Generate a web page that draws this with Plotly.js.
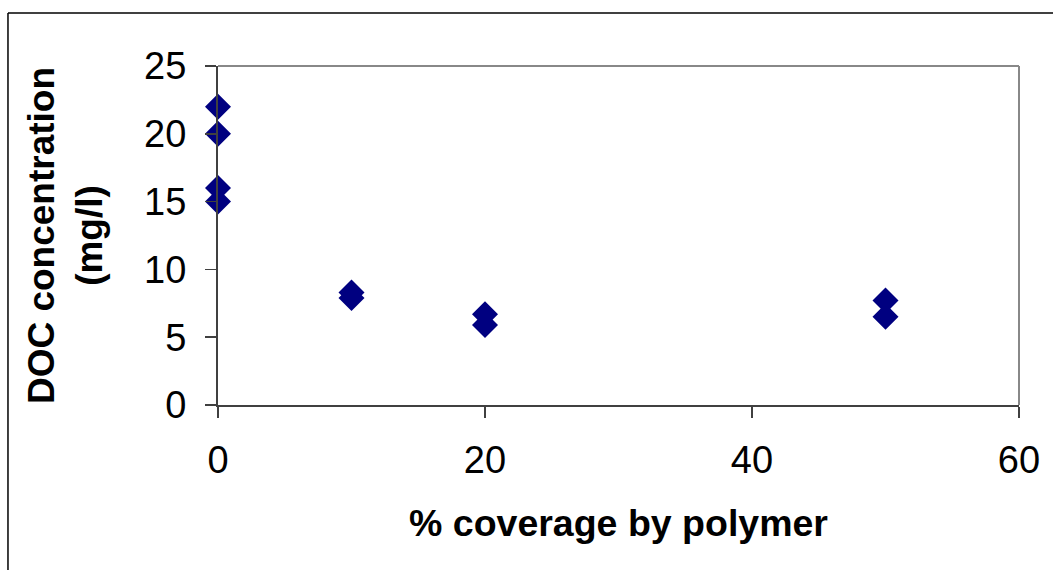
<!DOCTYPE html>
<html>
<head>
<meta charset="utf-8">
<script src="https://cdn.plot.ly/plotly-3.0.1.min.js"></script>
<style>
html,body{margin:0;padding:0;background:#fff;}
#chart{width:1053px;height:570px;}
</style>
</head>
<body>
<div id="chart"></div>
<script>
const coverage = [0, 0, 0, 0, 10, 10, 20, 20, 50, 50];
const docConc = [22, 20, 16, 15, 8.3, 7.9, 6.7, 5.9, 7.7, 6.5];
const xTicks = [0, 20, 40, 60];
const yTicks = [0, 5, 10, 15, 20, 25];
const xTitle = '% coverage by polymer';
const yTitle = 'DOC concentration<br>(mg/l)';

const trace = {
  x: coverage,
  y: docConc,
  type: 'scatter',
  mode: 'markers',
  cliponaxis: false,
  marker: {symbol: 'diamond', size: 20, color: '#000080', line: {width: 0}},
  hoverinfo: 'x+y'
};

const font = {family: '"Liberation Sans", Arial, sans-serif', color: '#000'};

const layout = {
  width: 1053,
  height: 570,
  margin: {l: 218, r: 34, t: 66, b: 165},
  paper_bgcolor: '#fff',
  plot_bgcolor: '#fff',
  showlegend: false,
  font: font,
  xaxis: {
    range: [0, 60],
    tickvals: xTicks,
    ticktext: xTicks.map(String),
    ticks: 'outside',
    ticklen: 11,
    tickwidth: 1.5,
    tickcolor: '#404040',
    showline: true,
    linecolor: '#404040',
    linewidth: 2,
    showgrid: false,
    zeroline: false,
    tickfont: {size: 38, family: font.family, color: '#000'},
    ticklabelstandoff: 9,
    title: {text: xTitle, font: {size: 37.5, family: font.family, color: '#000', weight: 'bold'}, standoff: 30}
  },
  yaxis: {
    range: [0, 25],
    tickvals: yTicks,
    ticktext: yTicks.map(String),
    ticks: 'outside',
    ticklen: 11,
    tickwidth: 1.5,
    tickcolor: '#404040',
    showline: true,
    linecolor: '#404040',
    linewidth: 2,
    showgrid: false,
    zeroline: false,
    tickfont: {size: 38, family: font.family, color: '#000'},
    ticklabelstandoff: 11,
    title: {text: yTitle, font: {size: 37, family: font.family, color: '#000', weight: 'bold'}, standoff: 30}
  },
  shapes: [
    {type: 'line', xref: 'paper', yref: 'paper', x0: 0, x1: 1, y0: 1, y1: 1, line: {color: '#888', width: 2}},
    {type: 'line', xref: 'paper', yref: 'paper', x0: 1, x1: 1, y0: 0, y1: 1, line: {color: '#888', width: 2}},
    {type: 'line', xref: 'paper', yref: 'paper', x0: -0.2622, x1: 1.2, y0: 1.1563, y1: 1.1563, line: {color: '#000', width: 1.5}},
    {type: 'line', xref: 'paper', yref: 'paper', x0: -0.2622, x1: -0.2622, y0: -0.6, y1: 1.1563, line: {color: '#000', width: 1.5}}
  ]
};

Plotly.newPlot('chart', [trace], layout, {displayModeBar: false, staticPlot: true});
</script>
</body>
</html>
